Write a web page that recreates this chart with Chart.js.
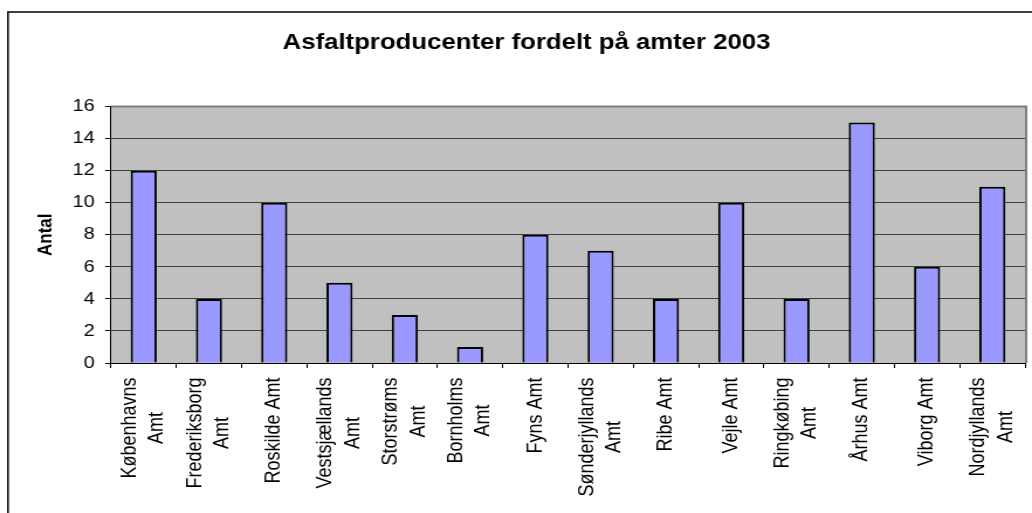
<!DOCTYPE html>
<html>
<head>
<meta charset="utf-8">
<script src="https://cdn.jsdelivr.net/npm/chart.js@4"></script>
<style>
  html, body { margin: 0; padding: 0; background: #fff; overflow: hidden; }
  #wrap { width: 1032px; height: 513px; overflow: hidden; position: relative; }
  #c { display: block; width: 882px; height: 513px; transform: scaleX(1.17007); transform-origin: 0 0; }
</style>
</head>
<body>
<div id="wrap"><canvas id="c" width="882" height="513"></canvas></div>
<script>
// ---- data ----
const chartTitle = 'Asfaltproducenter fordelt på amter 2003';
const yAxisTitle = 'Antal';
const categories = [
  ['Københavns', 'Amt'],
  ['Frederiksborg', 'Amt'],
  ['Roskilde Amt'],
  ['Vestsjællands', 'Amt'],
  ['Storstrøms', 'Amt'],
  ['Bornholms', 'Amt'],
  ['Fyns Amt'],
  ['Sønderjyllands', 'Amt'],
  ['Ribe Amt'],
  ['Vejle Amt'],
  ['Ringkøbing', 'Amt'],
  ['Århus Amt'],
  ['Viborg Amt'],
  ['Nordjyllands', 'Amt']
];
const antal = [12, 4, 10, 5, 3, 1, 8, 7, 4, 10, 4, 15, 6, 11];
const yMin = 0, yMax = 16, yStep = 2;

const FONT = "'Liberation Sans', Arial, sans-serif";

const framePlugin = {
  id: 'frame',
  beforeDraw(chart) {
    const { ctx, chartArea: a } = chart;
    ctx.save();
    ctx.fillStyle = '#ffffff';
    ctx.fillRect(0, 0, chart.width, chart.height);
    ctx.fillStyle = '#C0C0C0';
    ctx.fillRect(a.left, a.top, a.right - a.left, a.bottom - a.top);
    ctx.strokeStyle = '#000';
    ctx.lineWidth = 1.5;
    ctx.beginPath();
    ctx.moveTo(6.8, chart.height + 10);
    ctx.lineTo(6.8, 12);
    ctx.lineTo(chart.width + 10, 12);
    ctx.stroke();
    ctx.restore();
  },
  afterDatasetsDraw(chart) {
    const { ctx, chartArea: a } = chart;
    ctx.save();
    ctx.strokeStyle = '#808080';
    ctx.lineWidth = 2;
    ctx.beginPath();
    ctx.moveTo(a.left, a.top);
    ctx.lineTo(a.right + 1, a.top);
    ctx.lineTo(a.right + 1, a.bottom);
    ctx.stroke();
    ctx.restore();
  },
  afterDraw(chart) {
    const { ctx } = chart;
    const xs = chart.scales.x;
    ctx.save();
    ctx.font = '18px ' + FONT;
    ctx.fillStyle = '#000';
    ctx.textAlign = 'center';
    ctx.textBaseline = 'middle';
    const lineH = 23.4;
    categories.forEach((lines, i) => {
      const px = xs.getPixelForValue(i);
      const maxW = Math.max(...lines.map(l => ctx.measureText(l).width));
      const cy = xs.top + 14.5 + maxW / 2;
      ctx.save();
      ctx.translate(px, cy);
      ctx.rotate(-Math.PI / 2);
      const n = lines.length;
      lines.forEach((l, j) => {
        ctx.fillText(l, 0, (j - (n - 1) / 2) * lineH);
      });
      ctx.restore();
    });
    ctx.restore();
  }
};

new Chart(document.getElementById('c'), {
  type: 'bar',
  data: {
    labels: categories,
    datasets: [{
      data: antal,
      backgroundColor: '#9999FF',
      borderColor: '#000000',
      borderWidth: 2,
      barPercentage: 0.4,
      categoryPercentage: 1.0
    }]
  },
  options: {
    responsive: false,
    devicePixelRatio: 1,
    animation: false,
    layout: { padding: { left: 24, right: 6, top: 0, bottom: 0 } },
    plugins: {
      legend: { display: false },
      tooltip: { enabled: false },
      title: {
        display: true,
        text: chartTitle,
        color: '#000',
        font: { family: FONT, size: 22, weight: 'bold' },
        padding: { top: 29.8, bottom: 50.3 }
      }
    },
    scales: {
      x: {
        type: 'category',
        offset: true,
        grid: {
          display: true,
          offset: true,
          drawOnChartArea: false,
          drawTicks: true,
          tickLength: 5,
          color: '#000',
          tickColor: '#000'
        },
        border: { display: true, color: '#000', width: 1 },
        ticks: { display: false },
        afterFit(s) { s.height = 150; }
      },
      y: {
        min: yMin,
        max: yMax,
        ticks: {
          stepSize: yStep,
          color: '#000',
          padding: 9,
          font: { family: FONT, size: 17 }
        },
        grid: {
          drawTicks: true,
          tickLength: 5,
          tickColor: '#000',
          lineWidth: 1,
          color: (c) => (c.tick && c.tick.value === yMax) ? '#808080' : '#404040'
        },
        border: { display: true, color: '#000', width: 1 },
        title: {
          display: true,
          text: yAxisTitle,
          color: '#000',
          font: { family: FONT, size: 17, weight: 'bold' },
          padding: { top: 5.5, bottom: 0 }
        },
        afterFit(s) { s.width = 70.9; }
      }
    }
  },
  plugins: [framePlugin]
});
</script>
</body>
</html>
